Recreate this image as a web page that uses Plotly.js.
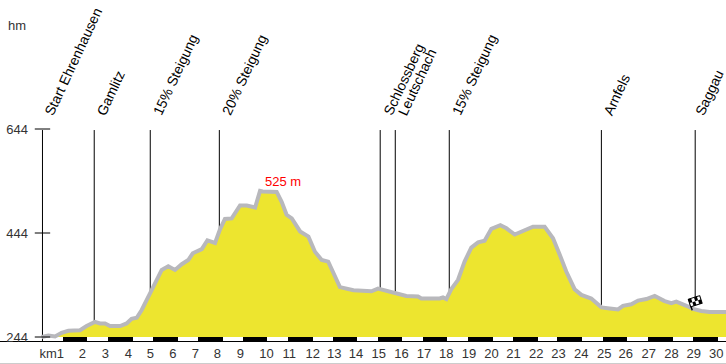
<!DOCTYPE html>
<html><head><meta charset="utf-8">
<script src="https://cdn.plot.ly/plotly-3.0.1.min.js"></script>
<style>html,body{margin:0;padding:0;background:#fff;overflow:hidden}#c{width:726px;height:364px}</style>
</head><body><div id="c"></div>
<script>
var profileKm=[0.07,0.37,0.67,0.96,1.26,1.78,2.07,2.44,2.67,2.89,3.11,3.56,3.85,4.07,4.30,4.52,4.89,5.19,5.41,5.70,6.00,6.30,6.59,6.79,7.19,7.44,7.78,8.00,8.22,8.52,8.89,9.19,9.56,9.78,9.90,10.52,10.74,10.96,11.19,11.56,11.93,12.22,12.52,12.81,13.04,13.33,13.93,14.36,14.73,15.02,15.39,15.84,16.28,16.80,16.95,17.76,17.91,18.06,18.28,18.58,18.87,19.17,19.47,19.76,20.06,20.46,20.73,21.10,21.39,21.91,22.43,22.80,23.10,23.39,23.76,24.06,24.50,24.95,25.32,25.69,25.91,26.28,26.58,26.95,27.32,27.76,28.06,28.28,28.73,29.02,29.39,29.76,30.49];
var profileElev=[244,247,245,252,256,257,265,273,270,270,265,265,270,279,281,296,328,354,373,380,373,384,392,405,413,430,425,451,471,472,497,497,493,525,524,523,504,479,472,447,437,408,392,389,366,340,334,333,332,337,333,328,323,322,318,318,320,317,336,354,389,416,426,429,452,459,453,441,447,456,456,434,402,370,336,325,318,301,299,297,304,307,314,317,323,313,309,312,304,298,294,292,292];
var stationKm=[0.11,2.41,4.90,7.97,15.12,15.79,18.19,24.95,29.12];
var stationElev=[236,273,328,451,337,328,318,301,310];
var stationNames=["Start Ehrenhausen","Gamlitz","15% Steigung","20% Steigung","Schlossberg","Leutschach","15% Steigung","Arnfels","Saggau"];
var kmTickPos=[0.52,1.88,2.90,3.93,4.90,5.91,6.90,7.88,8.90,10.07,11.08,12.12,13.08,14.04,15.05,16.07,17.07,18.06,19.07,20.07,21.04,22.06,23.04,24.06,25.08,26.03,27.05,28.07,29.05,30.06];
var kmTickText=["km1","2","3","4","5","6","7","8","9","10","11","12","13","14","15","16","17","18","19","20","21","22","23","24","25","26","27","28","29","30"];
var bandStart=[1.01,3.04,5.04,7.04,9.04,11.04,13.04,15.02,17.03,19.02,21.02,22.98,25.02,27.02,29.02];
var bandEnd=[2.07,4.12,6.12,8.12,10.07,12.12,14.10,16.09,18.09,20.13,22.13,24.09,26.09,28.13,30.13];
var elevTicks=[244,444,644];
var peakLabel="525 m", unitLabel="hm";

var pxKm=22.5, x0=40, pxM=0.52, H=341;
var xRange=[-x0/pxKm,(726-x0)/pxKm];
var yMin=244-4/pxM, yMax=yMin+H/pxM;
var traces=[];
stationKm.forEach(function(k,i){
  traces.push({x:[k,k],y:[642,stationElev[i]],mode:'lines',line:{color:'#000',width:1},hoverinfo:'skip',showlegend:false});
});
traces.push({x:[profileKm[0],profileKm[profileKm.length-1]],y:[244,244],mode:'lines',line:{width:0,color:'rgba(0,0,0,0)'},hoverinfo:'skip',showlegend:false});
traces.push({x:profileKm,y:profileElev,mode:'lines',fill:'tonexty',fillcolor:'#ede52f',line:{color:'#b8b8bc',width:4},showlegend:false});
traces.push({type:'bar',x:bandStart.map(function(s,i){return (s+bandEnd[i])/2}),y:bandStart.map(function(){return 244-yMin}),base:yMin,
  width:bandStart.map(function(s,i){return bandEnd[i]-s}),marker:{color:'#000',line:{width:0}},showlegend:false});
traces.push({x:elevTicks.map(function(){return stationKm[0]}),y:elevTicks,mode:'markers',marker:{symbol:'line-ew',size:11,line:{color:'#000',width:1}},showlegend:false});

var anns=stationNames.map(function(n,i){
  return {x:stationKm[i],y:663,text:n,showarrow:false,textangle:-65,xanchor:'left',yanchor:'bottom',xshift:i===8?-5:-2,
    font:{family:'Liberation Sans',size:14,color:'#000'},borderpad:0};
});
anns.push({x:10.8,y:525,text:peakLabel,showarrow:false,yshift:9,font:{family:'Liberation Sans',size:13,color:'#f00'}});
anns.push({xref:'paper',yref:'paper',x:6/726,y:1-25/H,text:unitLabel,xanchor:'left',yanchor:'middle',showarrow:false,font:{family:'Liberation Sans',size:13,color:'#333'}});

var layout={width:726,height:364,margin:{l:0,r:0,t:0,b:23,pad:0},paper_bgcolor:'#fff',plot_bgcolor:'rgba(0,0,0,0)',showlegend:false,
  bargap:0,
  xaxis:{range:xRange,tickvals:kmTickPos,ticktext:kmTickText,tickmode:'array',ticks:'',showgrid:false,zeroline:false,showline:true,linecolor:'#000',linewidth:1,
    tickfont:{family:'Liberation Sans',size:13,color:'#333'},automargin:false,fixedrange:true},
  yaxis:{range:[yMin,yMax],tickvals:elevTicks,tickmode:'array',ticktext:elevTicks.map(String),ticks:'',showgrid:false,zeroline:false,showline:false,
    anchor:'free',position:(x0-12)/726,tickfont:{family:'Liberation Sans',size:13,color:'#333'},automargin:false,fixedrange:true},
  annotations:anns,
  shapes:[{type:'line',xref:'paper',yref:'paper',x0:0,x1:1,y0:-22.5/H,y1:-22.5/H,line:{color:'#ccc',width:1}}],
  images:[{source:'data:image/svg+xml;utf8,'+encodeURIComponent('<svg xmlns="http://www.w3.org/2000/svg" width="16" height="16" viewBox="0 0 16 16"><path d="M5 15 L2 5" stroke="#000" stroke-width="1.4"/><g transform="rotate(-18 8 6)"><rect x="2" y="2" width="12" height="8" fill="#fff" stroke="#000"/><rect x="2" y="2" width="3" height="4"/><rect x="8" y="2" width="3" height="4"/><rect x="5" y="6" width="3" height="4"/><rect x="11" y="6" width="3" height="4"/></g></svg>'),
    xref:'x',yref:'y',x:29.12,y:309,sizex:16/pxKm,sizey:16/pxM,xanchor:'center',yanchor:'middle',layer:'above'}]
};
Plotly.newPlot('c',traces,layout,{displayModeBar:false,staticPlot:true});
</script></body></html>
